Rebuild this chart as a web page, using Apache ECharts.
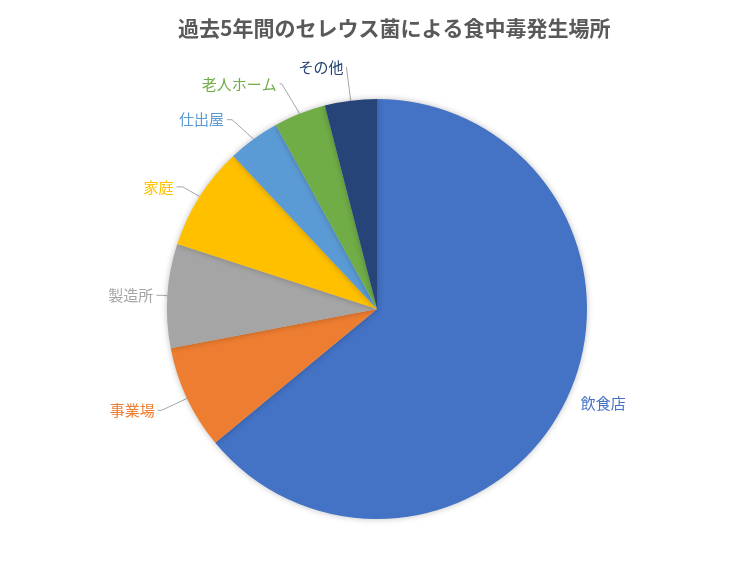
<!DOCTYPE html>
<html>
<head>
<meta charset="utf-8">
<script src="https://cdn.jsdelivr.net/npm/echarts@6/dist/echarts.min.js"></script>
<style>
  html, body { margin: 0; padding: 0; background: #fff; }
  #main { width: 756px; height: 567px; }
</style>
</head>
<body>
<div id="main"></div>
<script>
var places = ['飲食店', '事業場', '製造所', '家庭', '仕出屋', '老人ホーム', 'その他']
var counts = [64, 8, 8, 8, 4, 4, 4]
var colors = ['#4472C4', '#ED7D31', '#A5A5A5', '#FFC000', '#5B9BD5', '#70AD47', '#264478']
// leader line lengths per label (first segment, second segment)
var lineLen = [12, 28, 8, 18, 24, 42, 34]
var lineLen2 = [0, 4, 6, 6, 5, 2, 0]

var chart = echarts.init(document.getElementById('main'))

var data = places.map(function (name, i) {
    return {
        name: name,
        value: counts[i],
        itemStyle: { color: colors[i] },
        label: { color: colors[i] },
        labelLine: { show: i !== 0, length: lineLen[i], length2: lineLen2[i] }
    }
})

chart.setOption({
    textStyle: { fontFamily: '"Noto Sans CJK JP", sans-serif' },
    title: {
        text: '過去5年間のセレウス菌による食中毒発生場所',
        left: 173,
        top: 13,
        textStyle: { fontSize: 21, fontWeight: 'bold', color: '#595959', fontFamily: '"Noto Sans CJK JP", sans-serif' }
    },
    series: [{
        type: 'pie',
        center: [377, 309],
        radius: 210,
        startAngle: 90,
        clockwise: true,
        data: data,
        itemStyle: {
            shadowBlur: 6,
            shadowColor: 'rgba(0, 0, 0, 0.25)'
        },
        label: {
            show: true,
            position: 'outside',
            fontSize: 15,
            distanceToLabelLine: 3,
            fontFamily: '"Noto Sans CJK JP", sans-serif'
        },
        labelLine: {
            show: true,
            lineStyle: { color: '#A6A6A6', width: 1 }
        },
        emphasis: { disabled: true }
    }]
})
</script>
</body>
</html>
